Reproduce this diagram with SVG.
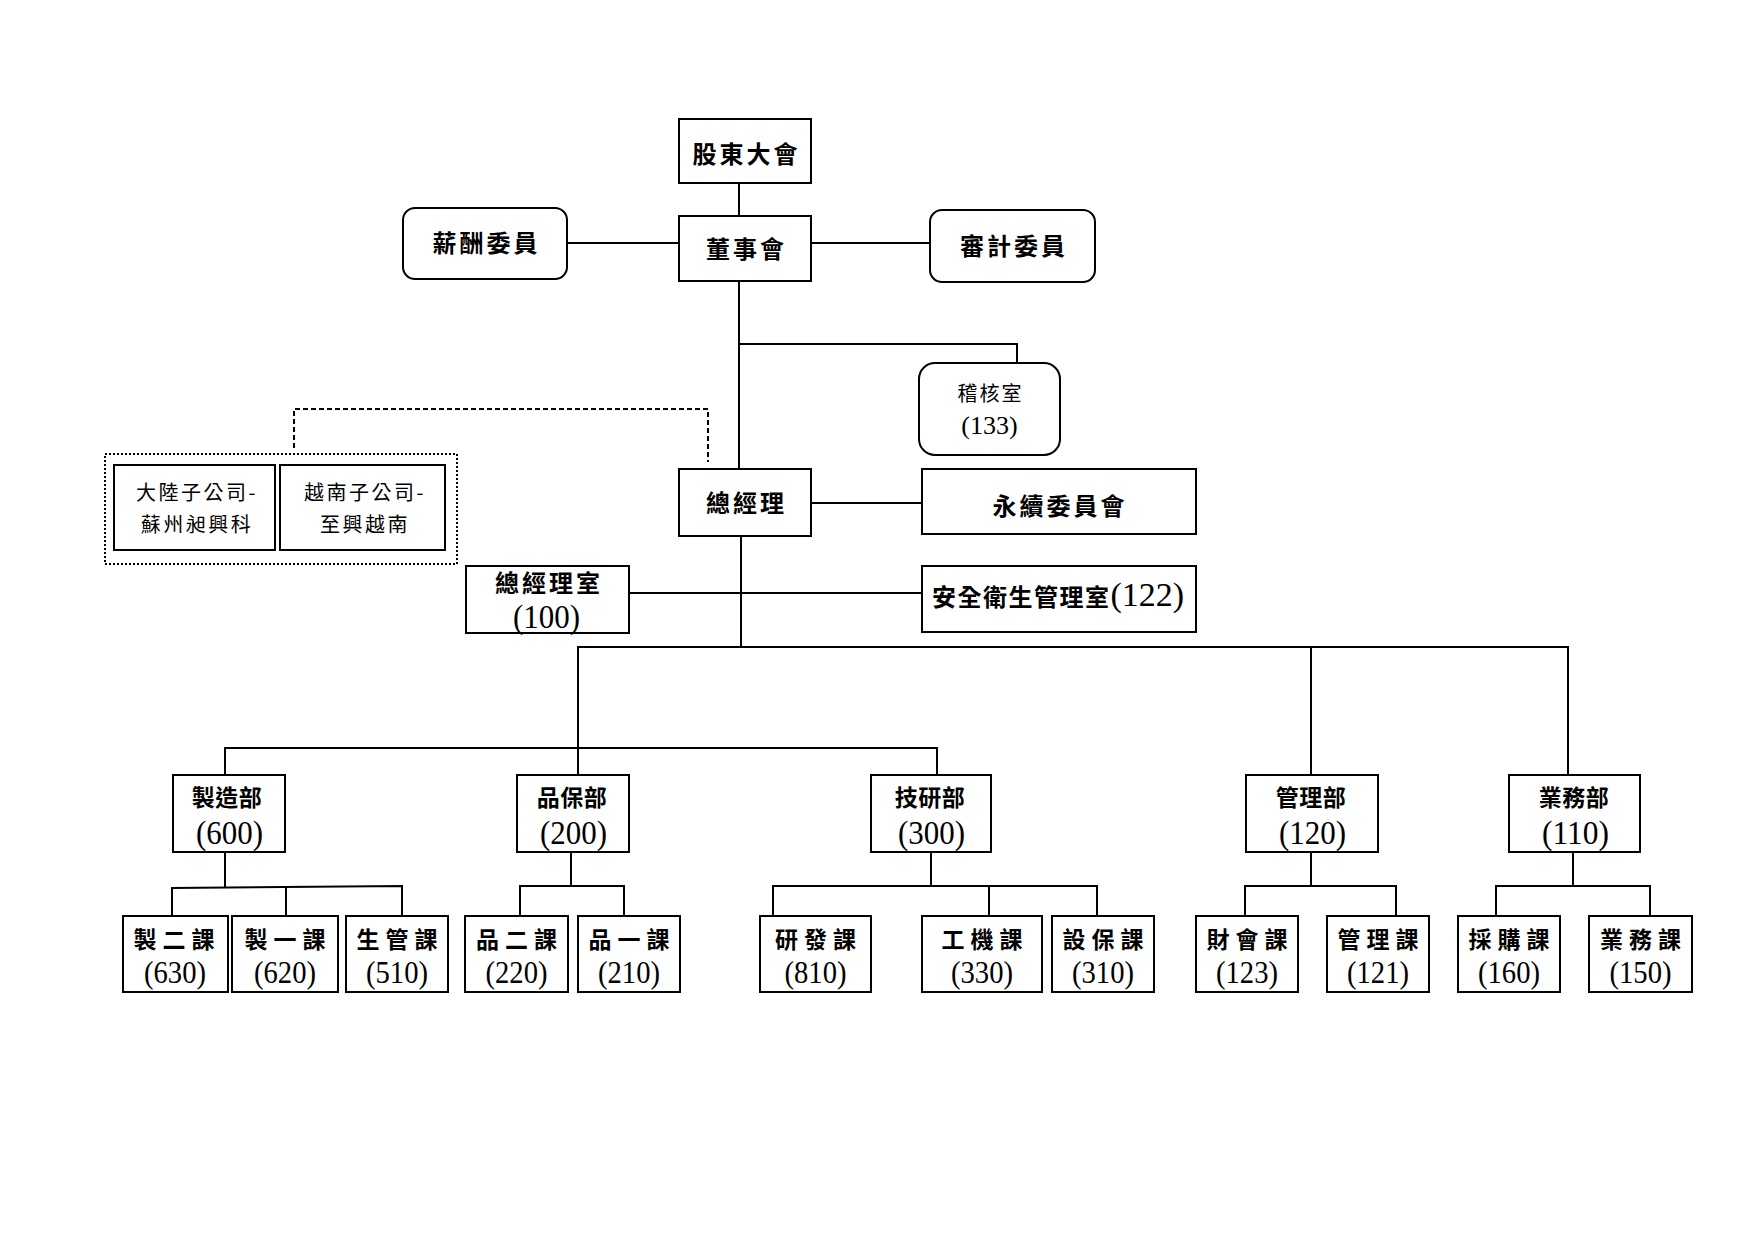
<svg xmlns="http://www.w3.org/2000/svg" width="1754" height="1240" viewBox="0 0 1754 1240">
<style>
.bg{fill:#fff}
.box{fill:#fff;stroke:#000;stroke-width:2}
.conn path{fill:none;stroke:#000;stroke-width:2}
.conn .dash{stroke-dasharray:5 3}
.dot{fill:none;stroke:#000;stroke-width:2;stroke-dasharray:2 2}
.t{font-family:"Noto Sans CJK TC","Noto Sans CJK SC",sans-serif;font-weight:700;font-size:24px;letter-spacing:3px;text-anchor:middle;fill:#000}
.r{font-family:"Noto Sans CJK TC","Noto Sans CJK SC",sans-serif;font-weight:400;font-size:20px;letter-spacing:2.5px;text-anchor:middle;fill:#000}
.d{font-family:"Noto Sans CJK TC",sans-serif;font-weight:700;font-size:23px;letter-spacing:0.5px;text-anchor:middle;fill:#000}
.s{font-family:"Noto Sans CJK TC",sans-serif;font-weight:700;font-size:23px;letter-spacing:6px;text-anchor:middle;fill:#000}
.n{font-family:"Liberation Serif","Noto Sans CJK TC",serif;font-size:33px;fill:#000}
.ns{font-family:"Liberation Serif","Noto Sans CJK TC",serif;font-size:32px;fill:#000}
</style>
<rect class="bg" x="0" y="0" width="1754" height="1240"/>

<g id="connectors" class="conn">
<path d="M739,183 V216"/>
<path d="M567,243 H679"/>
<path d="M811,243 H930"/>
<path d="M739,281 V469"/>
<path d="M739,344 H1017 V363"/>
<path d="M811,503 H922"/>
<path d="M741,536 V647"/>
<path d="M629,593 H922"/>
<path d="M578,775 V647 H1568 V775"/>
<path d="M1311,647 V775"/>
<path d="M225,775 V748 H937 V775"/>
<path class="dash" d="M294,448 V409 H708 V462"/>
<path d="M225,852 V887"/>
<path d="M172,916 V888 L402,886 V916"/>
<path d="M286,887 V916"/>
<path d="M571,852 V886"/>
<path d="M520,916 V886 H624 V916"/>
<path d="M931,852 V886"/>
<path d="M773,916 V886 H1097 V916"/>
<path d="M989,886 V916"/>
<path d="M1311,852 V886"/>
<path d="M1245,916 V886 H1396 V916"/>
<path d="M1573,852 V886"/>
<path d="M1496,916 V886 H1650 V916"/>
</g>

<g id="n-shareholders"><rect class="box" x="679" y="119" width="132" height="64"/><text class="t" x="746.5" y="163">股東大會</text></g>
<g id="n-board"><rect class="box" x="679" y="216" width="132" height="65"/><text class="t" x="746.5" y="258">董事會</text></g>
<g id="n-remuneration"><rect class="box" x="403" y="208" width="164" height="71" rx="12"/><text class="t" x="486.5" y="252">薪酬委員</text></g>
<g id="n-audit-committee"><rect class="box" x="930" y="210" width="165" height="72" rx="12"/><text class="t" x="1014" y="255">審計委員</text></g>
<g id="n-audit-office"><rect class="box" x="919" y="363" width="141" height="92" rx="16"/><text class="r" x="990.5" y="401" style="letter-spacing:2px">稽核室</text><text class="n" x="989.5" y="434" style="font-size:26px;text-anchor:middle">(133)</text></g>

<g id="n-subsidiaries"><rect class="dot" x="105" y="454" width="352" height="110"/>
<g id="n-china-sub"><rect class="box" x="114" y="465" width="161" height="85"/><text class="r" x="197" y="500">大陸子公司-</text><text class="r" x="197" y="532">蘇州昶興科</text></g>
<g id="n-vietnam-sub"><rect class="box" x="280" y="465" width="165" height="85"/><text class="r" x="365" y="500">越南子公司-</text><text class="r" x="365" y="532">至興越南</text></g>
</g>

<g id="n-gm"><rect class="box" x="679" y="469" width="132" height="67"/><text class="t" x="746.5" y="512">總經理</text></g>
<g id="n-esg"><rect class="box" x="922" y="469" width="274" height="65"/><text class="t" x="1060" y="515" style="letter-spacing:3px">永續委員會</text></g>
<g id="n-gm-office"><rect class="box" x="466" y="566" width="163" height="67"/><text class="t" x="549" y="592">總經理室</text><text class="n" x="513" y="628" textLength="67" lengthAdjust="spacingAndGlyphs">(100)</text></g>
<g id="n-safety"><rect class="box" x="922" y="566" width="274" height="66"/><text x="932" y="606"><tspan class="t" style="text-anchor:start;letter-spacing:1.5px">安全衛生管理室</tspan><tspan class="n" style="font-size:34px">(122)</tspan></text></g>

<g id="n-mfg"><rect class="box" x="173" y="775" width="112" height="77"/><text class="d" x="227" y="806">製造部</text><text class="n" x="196" y="844" textLength="67" lengthAdjust="spacingAndGlyphs">(600)</text></g>
<g id="n-qa"><rect class="box" x="517" y="775" width="112" height="77"/><text class="d" x="572" y="806">品保部</text><text class="n" x="540" y="844" textLength="67" lengthAdjust="spacingAndGlyphs">(200)</text></g>
<g id="n-rd"><rect class="box" x="871" y="775" width="120" height="77"/><text class="d" x="930" y="806">技研部</text><text class="n" x="898" y="844" textLength="67" lengthAdjust="spacingAndGlyphs">(300)</text></g>
<g id="n-admin"><rect class="box" x="1246" y="775" width="132" height="77"/><text class="d" x="1311" y="806">管理部</text><text class="n" x="1279" y="844" textLength="67" lengthAdjust="spacingAndGlyphs">(120)</text></g>
<g id="n-sales"><rect class="box" x="1509" y="775" width="131" height="77"/><text class="d" x="1574" y="806">業務部</text><text class="n" x="1542" y="844" textLength="67" lengthAdjust="spacingAndGlyphs">(110)</text></g>

<g id="n-630"><rect class="box" x="123" y="916" width="105" height="76"/><text class="s" x="177" y="948">製二課</text><text class="ns" x="144" y="983" textLength="62" lengthAdjust="spacingAndGlyphs">(630)</text></g>
<g id="n-620"><rect class="box" x="232" y="916" width="106" height="76"/><text class="s" x="288" y="948">製一課</text><text class="ns" x="254" y="983" textLength="62" lengthAdjust="spacingAndGlyphs">(620)</text></g>
<g id="n-510"><rect class="box" x="346" y="916" width="102" height="76"/><text class="s" x="400" y="948">生管課</text><text class="ns" x="366" y="983" textLength="62" lengthAdjust="spacingAndGlyphs">(510)</text></g>
<g id="n-220"><rect class="box" x="465" y="916" width="103" height="76"/><text class="s" x="519.5" y="948">品二課</text><text class="ns" x="485.5" y="983" textLength="62" lengthAdjust="spacingAndGlyphs">(220)</text></g>
<g id="n-210"><rect class="box" x="578" y="916" width="102" height="76"/><text class="s" x="632" y="948">品一課</text><text class="ns" x="598" y="983" textLength="62" lengthAdjust="spacingAndGlyphs">(210)</text></g>
<g id="n-810"><rect class="box" x="760" y="916" width="111" height="76"/><text class="s" x="818.5" y="948">研發課</text><text class="ns" x="784.5" y="983" textLength="62" lengthAdjust="spacingAndGlyphs">(810)</text></g>
<g id="n-330"><rect class="box" x="922" y="916" width="120" height="76"/><text class="s" x="985" y="948">工機課</text><text class="ns" x="951" y="983" textLength="62" lengthAdjust="spacingAndGlyphs">(330)</text></g>
<g id="n-310"><rect class="box" x="1052" y="916" width="102" height="76"/><text class="s" x="1106" y="948">設保課</text><text class="ns" x="1072" y="983" textLength="62" lengthAdjust="spacingAndGlyphs">(310)</text></g>
<g id="n-123"><rect class="box" x="1196" y="916" width="102" height="76"/><text class="s" x="1250" y="948">財會課</text><text class="ns" x="1216" y="983" textLength="62" lengthAdjust="spacingAndGlyphs">(123)</text></g>
<g id="n-121"><rect class="box" x="1327" y="916" width="102" height="76"/><text class="s" x="1381" y="948">管理課</text><text class="ns" x="1347" y="983" textLength="62" lengthAdjust="spacingAndGlyphs">(121)</text></g>
<g id="n-160"><rect class="box" x="1458" y="916" width="102" height="76"/><text class="s" x="1512" y="948">採購課</text><text class="ns" x="1478" y="983" textLength="62" lengthAdjust="spacingAndGlyphs">(160)</text></g>
<g id="n-150"><rect class="box" x="1589" y="916" width="103" height="76"/><text class="s" x="1643.5" y="948">業務課</text><text class="ns" x="1609.5" y="983" textLength="62" lengthAdjust="spacingAndGlyphs">(150)</text></g>
</svg>
